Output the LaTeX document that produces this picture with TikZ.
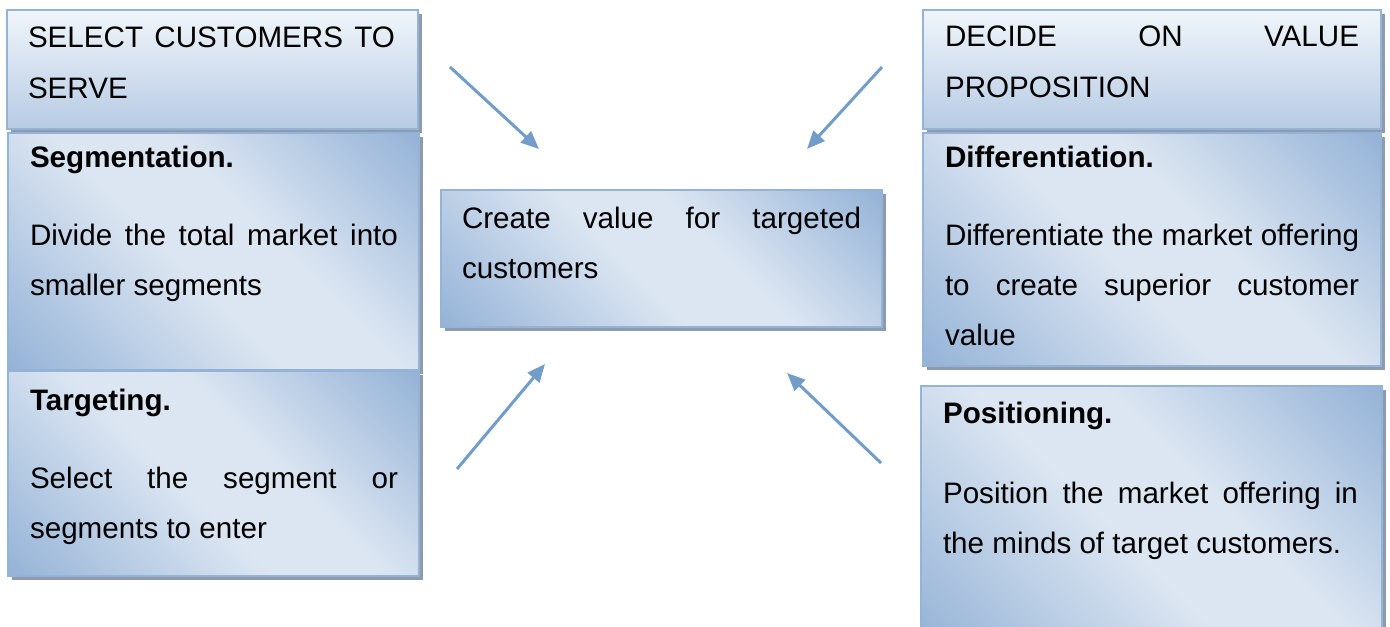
\documentclass[tikz,border=0pt]{standalone}
\usepackage{fontspec}
\setmainfont{Liberation Sans}
\usetikzlibrary{arrows.meta,shadows}
\definecolor{bordercol}{RGB}{149,179,215}
\definecolor{dkblue}{RGB}{149,179,215}
\definecolor{ltblue}{RGB}{220,230,242}
\definecolor{hdtop}{RGB}{240,245,250}
\definecolor{hdbot}{RGB}{183,203,228}
\definecolor{shcol}{RGB}{141,155,173}
\definecolor{arrcol}{RGB}{114,157,200}
\pgfdeclarehorizontalshading{diagshade}{100bp}{color(0bp)=(dkblue); color(15bp)=(dkblue); color(45bp)=(ltblue); color(58bp)=(ltblue); color(85bp)=(dkblue); color(100bp)=(dkblue)}
\begin{document}
\begin{tikzpicture}[x=0.5pt,y=-0.5pt,
  boxbase/.style={draw=bordercol, line width=1pt, inner sep=0pt, outer sep=0pt, anchor=north west,
    drop shadow={shadow xshift=1.8pt, shadow yshift=-1.8pt, fill=shcol, opacity=1}},
  hdrbox/.style={boxbase, top color=hdtop, bottom color=hdbot},
  diagbox/.style={boxbase, shading=diagshade, shading angle=45},
  txt/.style={anchor=base west, inner sep=0pt, outer sep=0pt, align=justify,
    font=\fontsize{14.8pt}{25pt}\selectfont},
  arr/.style={draw=arrcol, line width=1.5pt, -{Triangle[length=9pt,width=7.5pt]}}]
\useasboundingbox (0,0) rectangle (1390,626);
% boxes
\node[hdrbox, minimum width=205.5pt, minimum height=59.5pt] (sel) at (7,10) {};
\node[diagbox, minimum width=205.5pt, minimum height=118.5pt] (seg) at (8,133) {};
\node[diagbox, minimum width=205.5pt, minimum height=102.5pt] (tgt) at (8,371) {};
\node[hdrbox, minimum width=229pt, minimum height=59.5pt] (dec) at (923,10) {};
\node[diagbox, minimum width=229pt, minimum height=116.5pt] (dif) at (923,133) {};
\node[diagbox, minimum width=230.5pt, minimum height=130pt] (pos) at (921,386) {};
\node[diagbox, minimum width=220.5pt, minimum height=68.5pt] (ctr) at (441,190) {};
% texts
\node[txt, text width=183.5pt] (selt) at (28,48) {SELECT CUSTOMERS TO\linebreak SERVE};
\node[txt, text width=184pt] (segt) at (30,167) {\textbf{Segmentation.}\par\vspace{14pt}Divide the total market into\linebreak smaller segments};
\node[txt, text width=184pt] (tgtt) at (30,410) {\textbf{Targeting.}\par\vspace{14pt}Select the segment or\linebreak segments to enter};
\node[txt, text width=199.5pt] (ctrt) at (462,228) {Create value for targeted\linebreak customers};
\node[txt, text width=207pt] (dect) at (945,47) {DECIDE ON VALUE\linebreak PROPOSITION};
\node[txt, text width=207pt] (dift) at (945,167) {\textbf{Differentiation.}\par\vspace{14pt}Differentiate the market offering\linebreak to create superior customer\linebreak value};
\node[txt, text width=207.5pt] (post) at (943,423) {\textbf{Positioning.}\par\vspace{15pt}Position the market offering in\linebreak the minds of target customers.};
% arrow ends
\coordinate (a1s) at (450,67);  \coordinate (a1e) at (539,149);
\coordinate (a2s) at (882,67);  \coordinate (a2e) at (807,149);
\coordinate (a3s) at (457,469); \coordinate (a3e) at (545,364);
\coordinate (a4s) at (881,463); \coordinate (a4e) at (787,373);
\draw[arr] (a1s) -- (a1e);
\draw[arr] (a2s) -- (a2e);
\draw[arr] (a3s) -- (a3e);
\draw[arr] (a4s) -- (a4e);
\end{tikzpicture}
\end{document}
